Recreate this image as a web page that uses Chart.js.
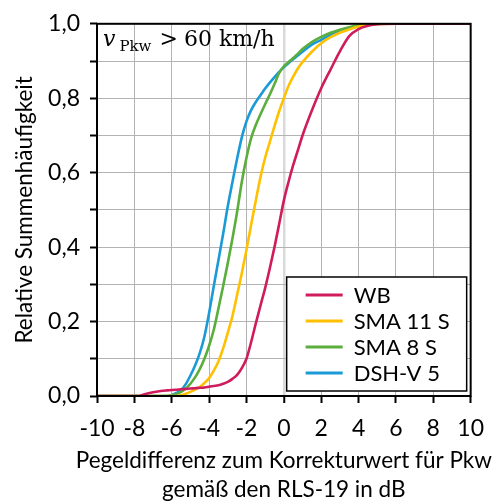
<!DOCTYPE html>
<html lang="de">
<head>
<meta charset="utf-8">
<title>Summenhäufigkeit Pegeldifferenz</title>
<script src="https://cdn.jsdelivr.net/npm/chart.js@4/dist/chart.umd.min.js"></script>
<style>
  html, body { margin: 0; padding: 0; background: #fff; }
  #wrap { position: relative; width: 496px; height: 501px; }
  #speed {
    position: absolute; left: 103px; top: 28px;
    font-family: "DejaVu Serif", "Liberation Serif", serif;
    font-size: 22px; color: #000; white-space: nowrap; line-height: 1;
  }
  #speed i { font-style: italic; }
  #speed sub { font-size: 15px; vertical-align: -5px; line-height: 0; margin-left: 4px; }
  #speed .rel { margin: 0 6px 0 8px; }
  #speed .unit { margin-left: 7px; }
</style>
</head>
<body>
<div id="wrap">
  <canvas id="cdfChart" width="496" height="501"></canvas>
  <div id="speed"><i>v</i><sub>Pkw</sub><span class="rel">&gt;</span>60<span class="unit">km/h</span></div>
</div>
<script>
// Pegeldifferenz in dB (gemeinsame Stützstellen)
const pegelDiff = [-10, -7.75, -7.5, -7, -6.5, -6.25, -6, -5.75, -5.5, -5.25, -5, -4.75, -4.5, -4.25, -4,
  -3.75, -3.5, -3.25, -3, -2.75, -2.5, -2.25, -2, -1.75, -1.5, -1.25, -1, -0.75, -0.5, -0.25,
  0, 0.25, 0.5, 0.75, 1, 1.5, 2, 2.5, 3, 3.5, 4, 4.5, 5, 6, 10];

// relative Summenhäufigkeit je Deckschicht
const wb = [0, 0, 0.004, 0.01, 0.014, 0.015, 0.016, 0.017, 0.018, 0.019, 0.02, 0.021, 0.022, 0.023, 0.025,
  0.027, 0.029, 0.033, 0.038, 0.046, 0.057, 0.075, 0.1, 0.145, 0.195, 0.243, 0.29, 0.343, 0.4, 0.462,
  0.525, 0.575, 0.62, 0.66, 0.7, 0.767, 0.827, 0.877, 0.926, 0.967, 0.986, 0.995, 0.999, 1, 1];
const sma11s = [0, 0, 0, 0, 0, 0, 0, 0, 0.002, 0.006, 0.011, 0.017, 0.024, 0.035, 0.048,
  0.068, 0.093, 0.128, 0.17, 0.215, 0.272, 0.33, 0.393, 0.46, 0.525, 0.588, 0.64, 0.683, 0.725, 0.765,
  0.8, 0.833, 0.858, 0.88, 0.897, 0.925, 0.948, 0.964, 0.976, 0.985, 0.993, 0.997, 0.999, 1, 1];
const sma8s = [0, 0, 0, 0, 0, 0, 0.002, 0.005, 0.011, 0.02, 0.033, 0.05, 0.072, 0.1, 0.135,
  0.178, 0.235, 0.295, 0.357, 0.423, 0.495, 0.575, 0.64, 0.693, 0.728, 0.757, 0.784, 0.81, 0.838, 0.868,
  0.886, 0.897, 0.908, 0.92, 0.932, 0.951, 0.965, 0.976, 0.984, 0.991, 0.996, 0.999, 1, 1, 1];
const dshv5 = [0, 0, 0, 0, 0, 0, 0.003, 0.008, 0.016, 0.032, 0.055, 0.082, 0.115, 0.16, 0.223,
  0.295, 0.365, 0.435, 0.51, 0.575, 0.638, 0.695, 0.738, 0.768, 0.79, 0.808, 0.826, 0.842, 0.857, 0.871,
  0.883, 0.894, 0.905, 0.915, 0.925, 0.944, 0.957, 0.97, 0.98, 0.988, 0.994, 0.998, 1, 1, 1];

const seriesNames = ["WB", "SMA 11 S", "SMA 8 S", "DSH-V 5"];
const seriesColors = ["#d01c5c", "#ffc000", "#5aae3c", "#1b9ad8"];

const xTicks = [-10, -8, -6, -4, -2, 0, 2, 4, 6, 8, 10];
const xTickLabels = ["-10", "-8", "-6", "-4", "-2", "0", "2", "4", "6", "8", "10"];
const yTicks = [0, 0.2, 0.4, 0.6, 0.8, 1];
const yTickLabels = ["0,0", "0,2", "0,4", "0,6", "0,8", "1,0"];
const xTitle = ["Pegeldifferenz zum Korrekturwert für Pkw", "gemäß den RLS-19 in dB"];

const FONT = "Lato, 'Open Sans', sans-serif";
const FONT_SIZE = 23;
const GRID = "#b3b3b3";

function toPoints(ys) {
  return pegelDiff.map((x, i) => ({ x, y: ys[i] }));
}

// Rahmen um die Zeichenfläche, über den Kurven
const framePlugin = {
  id: "frame",
  afterDatasetsDraw(chart) {
    const { ctx, chartArea: a } = chart;
    ctx.save();
    ctx.strokeStyle = "#000";
    ctx.lineWidth = 2;
    ctx.strokeRect(a.left, a.top, a.right - a.left, a.bottom - a.top);
    ctx.restore();
  }
};

// x-Achsentitel, zweizeilig und breiter als die Zeichenfläche
const xTitlePlugin = {
  id: "xTitle",
  afterDraw(chart) {
    const { ctx, chartArea: a } = chart;
    const cx = (a.left + a.right) / 2;
    ctx.save();
    ctx.font = "22.5px " + FONT;
    ctx.fillStyle = "#000";
    ctx.textAlign = "center";
    ctx.textBaseline = "alphabetic";
    xTitle.forEach((line, i) => ctx.fillText(line, cx, 468 + i * 29));
    ctx.restore();
  }
};

// Legende als Kasten unten rechts in der Zeichenfläche
const boxLegend = {
  id: "boxLegend",
  afterDraw(chart) {
    const { ctx, chartArea: a } = chart;
    const w = 180, h = 114;
    const x0 = a.right - 4 - w, y0 = a.bottom - 5 - h;
    ctx.save();
    ctx.fillStyle = "#fff";
    ctx.fillRect(x0, y0, w, h);
    ctx.strokeStyle = "#000";
    ctx.lineWidth = 1.5;
    ctx.strokeRect(x0, y0, w, h);
    ctx.font = "22px " + FONT;
    ctx.textBaseline = "middle";
    ctx.fillStyle = "#000";
    chart.data.datasets.forEach((ds, i) => {
      const yy = y0 + 18 + i * 26;
      ctx.strokeStyle = ds.borderColor;
      ctx.lineWidth = 3;
      ctx.beginPath();
      ctx.moveTo(x0 + 19, yy);
      ctx.lineTo(x0 + 56, yy);
      ctx.stroke();
      ctx.fillText(ds.label, x0 + 67, yy + 1);
    });
    ctx.restore();
  }
};

const datasets = [wb, sma11s, sma8s, dshv5].map((ys, i) => ({
  label: seriesNames[i],
  data: toPoints(ys),
  borderColor: seriesColors[i],
  backgroundColor: seriesColors[i],
  borderWidth: 2.6,
  pointRadius: 0,
  fill: false,
  cubicInterpolationMode: "monotone",
  clip: 0
}));

new Chart(document.getElementById("cdfChart"), {
  type: "line",
  data: { datasets },
  plugins: [framePlugin, xTitlePlugin, boxLegend],
  options: {
    responsive: false,
    animation: false,
    devicePixelRatio: 1,
    layout: { padding: { left: 0, right: 22, top: 19, bottom: 0 } },
    plugins: {
      legend: { display: false },
      tooltip: { enabled: false }
    },
    scales: {
      x: {
        type: "linear",
        min: -10,
        max: 10,
        afterBuildTicks(scale) {
          scale.ticks = xTicks.map(v => ({ value: v }));
        },
        afterFit(scale) { scale.height = 105; },
        grid: {
          color: ctx => (ctx.tick && ctx.tick.value === 0 ? "#d9d9d9" : GRID),
          lineWidth: ctx => (ctx.tick && ctx.tick.value === 0 ? 2.5 : 1),
          tickColor: "#000",
          tickLength: 7,
          tickWidth: 2
        },
        border: { display: false },
        ticks: {
          color: "#000",
          font: { family: FONT, size: FONT_SIZE },
          padding: 12,
          maxRotation: 0,
          autoSkip: false,
          callback: value => {
            const i = xTicks.indexOf(value);
            return i >= 0 ? xTickLabels[i] : "";
          }
        }
      },
      y: {
        min: 0,
        max: 1,
        ticks: {
          stepSize: 0.1,
          color: "#000",
          font: { family: FONT, size: FONT_SIZE },
          padding: 10,
          autoSkip: false,
          callback: value => {
            const i = yTicks.findIndex(t => Math.abs(t - value) < 1e-6);
            return i >= 0 ? yTickLabels[i] : "";
          }
        },
        afterFit(scale) { scale.width = 97; },
        grid: {
          color: GRID,
          lineWidth: 1,
          tickColor: "#000",
          tickLength: 7,
          tickWidth: 2
        },
        border: { display: false },
        title: {
          display: true,
          text: "Relative Summenhäufigkeit",
          color: "#000",
          font: { family: FONT, size: 22.5, lineHeight: 1.1 },
          padding: { top: 12, bottom: 0 }
        }
      }
    }
  }
});
</script>
</body>
</html>
